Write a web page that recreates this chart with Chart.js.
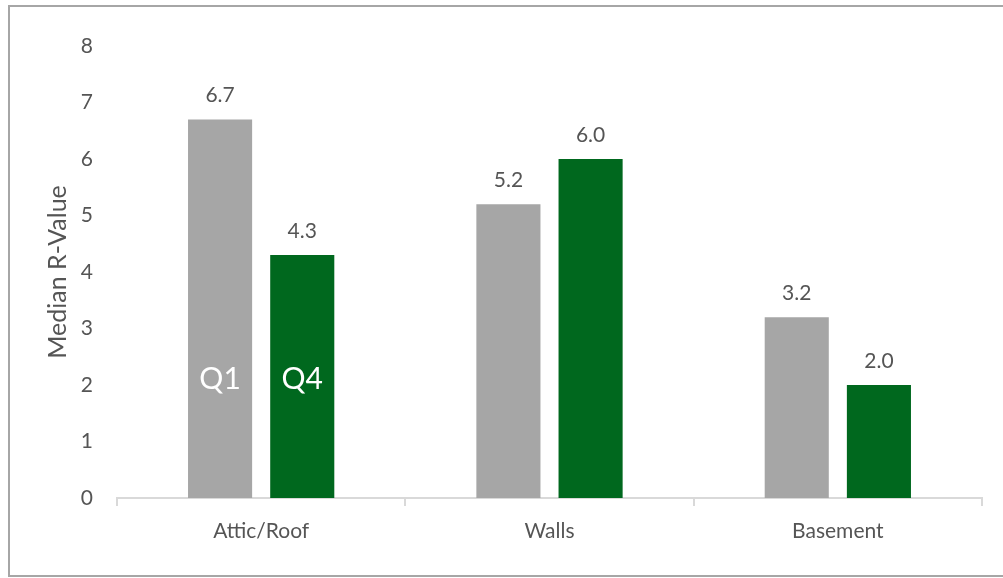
<!DOCTYPE html>
<html>
<head>
<meta charset="utf-8">
<script src="https://cdn.jsdelivr.net/npm/chart.js@4/dist/chart.umd.min.js"></script>
<style>
  html, body { margin: 0; padding: 0; background: #fff; }
  #wrap { position: relative; width: 1003px; height: 578px; overflow: hidden; }
  #frame { position: absolute; left: 8px; top: 5px; width: 1100px; height: 572px; border: 2px solid #a6a6a6; box-sizing: border-box; }
  canvas { position: absolute; left: 0; top: 0; }
</style>
</head>
<body>
<div id="wrap">
  <div id="frame"></div>
  <canvas id="chart" width="1003" height="578"></canvas>
</div>
<script>
const categories = ["Attic/Roof", "Walls", "Basement"];
const seriesNames = ["Q1", "Q4"];
const q1Values = [6.7, 5.2, 3.2];
const q4Values = [4.3, 6.0, 2.0];
const yTicks = [0, 1, 2, 3, 4, 5, 6, 7, 8];

const fontFamily = "Lato, 'Open Sans', sans-serif";
const textColor = "#555555";

// value labels above each bar + series name inside the first pair
const barLabels = {
  id: "barLabels",
  afterDatasetsDraw(chart) {
    const ctx = chart.ctx;
    const y = chart.scales.y;
    ctx.save();
    ctx.textAlign = "center";
    chart.data.datasets.forEach((ds, i) => {
      const meta = chart.getDatasetMeta(i);
      meta.data.forEach((bar, j) => {
        ctx.fillStyle = textColor;
        ctx.font = "21px " + fontFamily;
        ctx.textBaseline = "alphabetic";
        ctx.fillText(ds.data[j].toFixed(1), bar.x, bar.y - 17);
      });
      const first = meta.data[0];
      ctx.fillStyle = "#ffffff";
      ctx.font = "30px " + fontFamily;
      ctx.textBaseline = "middle";
      ctx.fillText(seriesNames[i], first.x, y.getPixelForValue(2.1));
    });
    ctx.restore();
  }
};

new Chart(document.getElementById("chart"), {
  type: "bar",
  data: {
    labels: categories,
    datasets: [
      { label: seriesNames[0], data: q1Values, backgroundColor: "#a6a6a6" },
      { label: seriesNames[1], data: q4Values, backgroundColor: "#00681e" }
    ]
  },
  options: {
    responsive: false,
    animation: false,
    categoryPercentage: 0.57,
    barPercentage: 0.78,
    layout: { padding: { left: 0, right: 21, top: 46, bottom: 0 } },
    plugins: { legend: { display: false }, tooltip: { enabled: false } },
    scales: {
      x: {
        grid: { offset: true, drawOnChartArea: false, color: "#d9d9d9", tickLength: 8, lineWidth: 2 },
        border: { color: "#d9d9d9", width: 2 },
        ticks: { color: textColor, font: { family: fontFamily, size: 21 }, padding: 13 },
        afterFit(scale) { scale.height = 80; }
      },
      y: {
        min: 0,
        max: 8,
        afterBuildTicks(scale) { scale.ticks = yTicks.map(v => ({ value: v })); },
        grid: { display: false },
        border: { display: false },
        ticks: { color: textColor, font: { family: fontFamily, size: 21 }, padding: 16 },
        title: {
          display: true,
          text: "Median R-Value",
          color: textColor,
          font: { family: fontFamily, size: 25 },
          padding: { top: 43, bottom: 0 }
        },
        afterFit(scale) { scale.width = 117; }
      }
    }
  },
  plugins: [barLabels]
});
</script>
</body>
</html>
